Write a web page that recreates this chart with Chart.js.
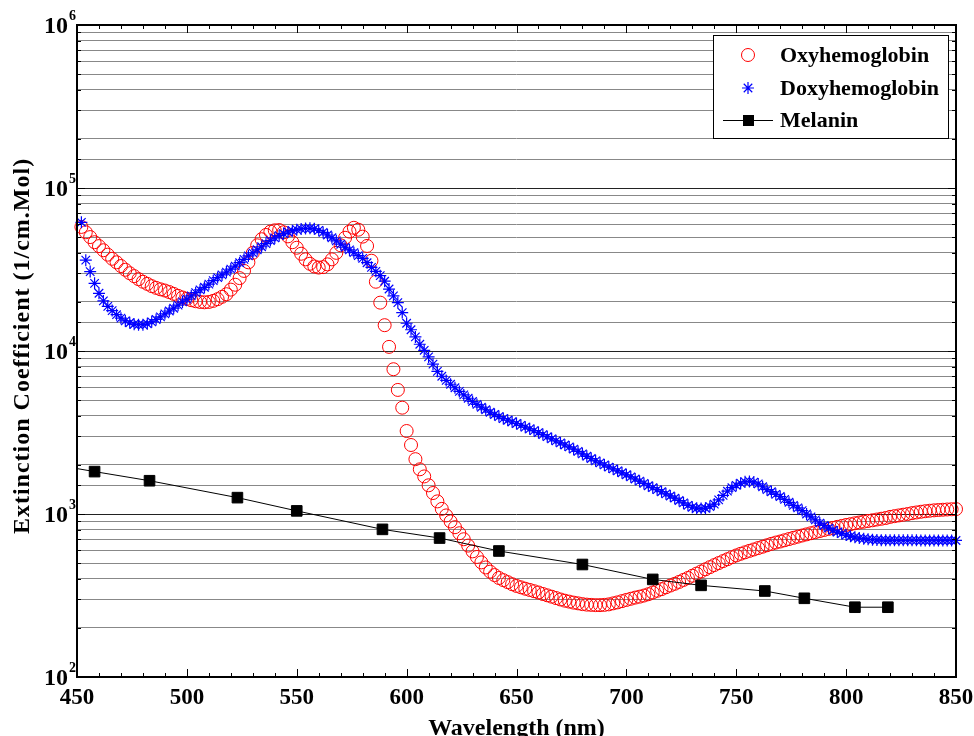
<!DOCTYPE html>
<html>
<head>
<meta charset="utf-8">
<script src="https://cdn.jsdelivr.net/npm/chart.js@4.4.0/dist/chart.umd.min.js"></script>
<style>
  html, body { margin: 0; padding: 0; background: #fff; }
  canvas { display: block; }
</style>
</head>
<body>
<canvas id="chart" width="974" height="736"></canvas>
<script>
// Wavelength grid (nm) of the hemoglobin spectra, 2 nm step
const wavelengths = Array.from({ length: 200 }, (_, i) => 452 + 2 * i);

// Oxyhemoglobin extinction coefficient (1/cm.Mol), 452..850 nm
const oxyHb = [
  57700, 53500, 50000, 46500, 44000, 41500, 39000, 36800, 35000, 33200,
  31500, 30000, 28800, 27600, 26600, 25800, 25000, 24400, 23900, 23500,
  23000, 22400, 21800, 21300, 20900, 20500, 20200, 20000, 19900, 20000,
  20300, 20800, 21500, 22300, 23800, 25500, 28000, 31000, 35000, 40000,
  44500, 48500, 51500, 54000, 55000, 55200, 53500, 50500, 46500, 43000,
  39500, 36500, 34300, 33000, 32500, 32700, 34000, 36500, 40000, 44500,
  49500, 54000, 57000, 55500, 50300, 44100, 35800, 26600, 19800, 14400,
  10600, 7730, 5770, 4490, 3230, 2650, 2170, 1880, 1700, 1500,
  1345, 1195, 1075, 980, 900, 830, 762, 700, 640, 590,
  545, 505, 470, 443, 422, 405, 393, 382, 371, 362,
  355, 348, 342, 336, 330, 323, 317, 311, 305, 299,
  294, 290, 286, 283, 280, 278, 277, 276, 276, 277,
  279, 283, 287, 292, 297, 302, 307, 311, 316, 322,
  330, 338, 346, 355, 364, 373, 383, 394, 405, 418,
  431, 444, 458, 472, 486, 500, 514, 528, 543, 557,
  570, 582, 594, 606, 618, 630, 643, 656, 668, 678,
  690, 702, 714, 726, 738, 750, 762, 774, 786, 798,
  810, 822, 834, 845, 856, 866, 877, 887, 897, 906,
  915, 925, 935, 945, 960, 970, 980, 990, 1000, 1012,
  1022, 1032, 1040, 1047, 1053, 1058, 1062, 1066, 1069, 1072
];

// Deoxyhemoglobin extinction coefficient (1/cm.Mol), 452..850 nm
const deoxyHb = [
  61600, 36100, 30700, 26000, 22600, 20300, 18800, 17700, 16700, 15900,
  15300, 14900, 14600, 14500, 14500, 14700, 15100, 15600, 16200, 16900,
  17600, 18300, 19100, 20000, 20800, 21800, 22800, 23700, 24600, 25700,
  27000, 28200, 29300, 30500, 31800, 33200, 34800, 36500, 38300, 40000,
  41800, 43600, 45600, 47600, 49400, 51000, 52500, 53700, 54700, 55500,
  56100, 56500, 56600, 56200, 55000, 53400, 51500, 49500, 47400, 45200,
  43300, 41700, 40100, 38500, 37000, 34800, 32600, 30800, 29000, 26800,
  24000, 21800, 19800, 17200, 14800, 13500, 12200, 11000, 10100, 9200,
  8300, 7500, 7000, 6600, 6250, 5950, 5650, 5380, 5130, 4900,
  4700, 4520, 4360, 4210, 4080, 3960, 3850, 3760, 3680, 3590,
  3500, 3410, 3330, 3250, 3160, 3070, 2980, 2890, 2810, 2730,
  2650, 2580, 2500, 2420, 2340, 2260, 2190, 2120, 2060, 2000,
  1940, 1890, 1840, 1790, 1740, 1690, 1640, 1590, 1540, 1490,
  1450, 1410, 1370, 1330, 1290, 1250, 1210, 1170, 1130, 1100,
  1085, 1080, 1085, 1110, 1150, 1220, 1300, 1380, 1450, 1500,
  1545, 1575, 1585, 1570, 1530, 1470, 1410, 1370, 1320, 1280,
  1230, 1180, 1130, 1090, 1050, 1000, 960, 920, 880, 850,
  820, 795, 775, 758, 742, 730, 720, 712, 706, 700,
  696, 693, 691, 690, 690, 689, 689, 689, 689, 689,
  689, 688, 688, 688, 688, 688, 688, 688, 688, 688
];

// Melanin (first entry is where the line leaves the left axis, no marker there)
const melaninWavelengths = [450, 458, 483, 523, 550, 589, 615, 642, 680, 712, 734, 763, 781, 804, 819];
const melanin = [1900, 1820, 1600, 1260, 1045, 805, 712, 593, 490, 397, 365, 337, 304, 268, 268];

const xTickLabels = [450, 500, 550, 600, 650, 700, 750, 800, 850];
const yDecades = [2, 3, 4, 5, 6];
const seriesNames = ['Oxyhemoglobin', 'Doxyhemoglobin', 'Melanin'];

const FONT = '"Liberation Serif", "Times New Roman", serif';

const toPoints = (xs, ys) => xs.map((x, i) => ({ x: x, y: ys[i] }));

function drawStar(ctx, x, y, r) {
  ctx.beginPath();
  ctx.moveTo(x - r, y); ctx.lineTo(x + r, y);
  ctx.moveTo(x, y - r); ctx.lineTo(x, y + r);
  const d = r * Math.SQRT1_2;
  ctx.moveTo(x - d, y - d); ctx.lineTo(x + d, y + d);
  ctx.moveTo(x - d, y + d); ctx.lineTo(x + d, y - d);
  ctx.stroke();
}

// Frame, inward ticks, tick labels, axis titles and legend
const decorations = {
  id: 'decorations',
  afterDatasetsDraw(chart) {
    const { ctx, chartArea: a, scales: { x, y } } = chart;
    ctx.save();
    ctx.strokeStyle = '#000';
    ctx.fillStyle = '#000';

    // x ticks (bottom and top), minor every 10 nm
    ctx.lineWidth = 1;
    ctx.beginPath();
    for (let v = 450; v <= 850; v += 10) {
      const px = Math.round(x.getPixelForValue(v)) + 0.5;
      const len = v % 50 === 0 ? 8 : 4;
      ctx.moveTo(px, a.bottom); ctx.lineTo(px, a.bottom - len);
      ctx.moveTo(px, a.top); ctx.lineTo(px, a.top + len);
    }
    // y ticks (left and right)
    y.ticks.forEach(t => {
      const py = Math.round(y.getPixelForValue(t.value)) + 0.5;
      const lg = Math.log10(t.value);
      const len = Math.abs(lg - Math.round(lg)) < 1e-6 ? 8 : 4;
      ctx.moveTo(a.left, py); ctx.lineTo(a.left + len, py);
      ctx.moveTo(a.right, py); ctx.lineTo(a.right - len, py);
    });
    ctx.stroke();

    // frame
    ctx.lineWidth = 2;
    ctx.strokeRect(a.left, a.top, a.right - a.left, a.bottom - a.top);

    // x tick labels
    ctx.font = 'bold 23px ' + FONT;
    ctx.textAlign = 'center';
    ctx.textBaseline = 'top';
    xTickLabels.forEach(v => {
      ctx.fillText(String(v), x.getPixelForValue(v), a.bottom + 10);
    });

    // y tick labels 10^n
    yDecades.forEach(e => {
      const py = y.getPixelForValue(Math.pow(10, e));
      ctx.font = 'bold 24px ' + FONT;
      ctx.textAlign = 'right';
      ctx.textBaseline = 'middle';
      ctx.fillText('10', a.left - 9, py + 2);
      ctx.font = 'bold 14px ' + FONT;
      ctx.textAlign = 'left';
      ctx.textBaseline = 'alphabetic';
      ctx.fillText(String(e), a.left - 8, py - 5);
    });

    // axis titles
    ctx.font = 'bold 24px ' + FONT;
    ctx.textAlign = 'center';
    ctx.textBaseline = 'alphabetic';
    ctx.fillText('Wavelength (nm)', (a.left + a.right) / 2, 735);
    ctx.save();
    ctx.translate(29, 346);
    ctx.rotate(-Math.PI / 2);
    ctx.font = 'bold 24px ' + FONT;
    ctx.letterSpacing = '1px';
    ctx.fillText('Extinction Coefficient (1/cm.Mol)', 0, 0);
    ctx.restore();

    // legend
    const lx = 713, ly = 35, lw = 235, lh = 103;
    ctx.fillStyle = '#fff';
    ctx.fillRect(lx, ly, lw, lh);
    ctx.lineWidth = 1;
    ctx.strokeStyle = '#000';
    ctx.strokeRect(lx + 0.5, ly + 0.5, lw, lh);
    const rows = [55, 88, 120];
    const mx = 748;
    ctx.strokeStyle = '#ff0000';
    ctx.beginPath();
    ctx.arc(mx, rows[0], 6.5, 0, Math.PI * 2);
    ctx.stroke();
    ctx.strokeStyle = '#0000ff';
    ctx.lineWidth = 1.2;
    drawStar(ctx, mx, rows[1], 6);
    ctx.lineWidth = 1;
    ctx.strokeStyle = '#000';
    ctx.beginPath();
    ctx.moveTo(723, rows[2] + 0.5); ctx.lineTo(773, rows[2] + 0.5);
    ctx.stroke();
    ctx.fillStyle = '#000';
    ctx.fillRect(mx - 5, rows[2] - 5, 11, 11);
    ctx.font = 'bold 22px ' + FONT;
    ctx.textAlign = 'left';
    ctx.textBaseline = 'middle';
    seriesNames.forEach((n, i) => ctx.fillText(n, 780, rows[i] + 1));

    ctx.restore();
  }
};

new Chart(document.getElementById('chart'), {
  type: 'scatter',
  data: {
    datasets: [
      {
        label: seriesNames[2],
        data: toPoints(melaninWavelengths, melanin),
        showLine: true,
        borderColor: '#000',
        borderWidth: 1,
        backgroundColor: '#000',
        pointStyle: 'rect',
        pointRadius: ctx => (ctx.dataIndex === 0 ? 0 : 7.5),
        order: 0,
        clip: false
      },
      {
        label: seriesNames[1],
        data: toPoints(wavelengths, deoxyHb),
        showLine: false,
        borderColor: '#0000ff',
        backgroundColor: '#0000ff',
        borderWidth: 1.2,
        pointStyle: 'star',
        pointRadius: 6,
        order: 1,
        clip: false
      },
      {
        label: seriesNames[0],
        data: toPoints(wavelengths, oxyHb),
        showLine: false,
        borderColor: '#ff0000',
        backgroundColor: 'rgba(0,0,0,0)',
        borderWidth: 1,
        pointStyle: 'circle',
        pointRadius: 6.5,
        order: 2,
        clip: false
      }
    ]
  },
  options: {
    responsive: false,
    animation: false,
    devicePixelRatio: 1,
    layout: { padding: { left: 77, right: 18, top: 25, bottom: 59 } },
    plugins: { legend: { display: false }, tooltip: { enabled: false } },
    scales: {
      x: {
        type: 'linear', min: 450, max: 850,
        ticks: { display: false },
        grid: { display: false, drawTicks: false },
        border: { display: false }
      },
      y: {
        type: 'logarithmic', min: 100, max: 1000000,
        ticks: { display: false },
        grid: {
          drawTicks: false,
          lineWidth: 1,
          color: ctx => {
            const v = ctx.tick ? ctx.tick.value : 1;
            const lg = Math.log10(v);
            return Math.abs(lg - Math.round(lg)) < 1e-6 ? '#222' : '#888';
          }
        },
        border: { display: false }
      }
    }
  },
  plugins: [decorations]
});
</script>
</body>
</html>
